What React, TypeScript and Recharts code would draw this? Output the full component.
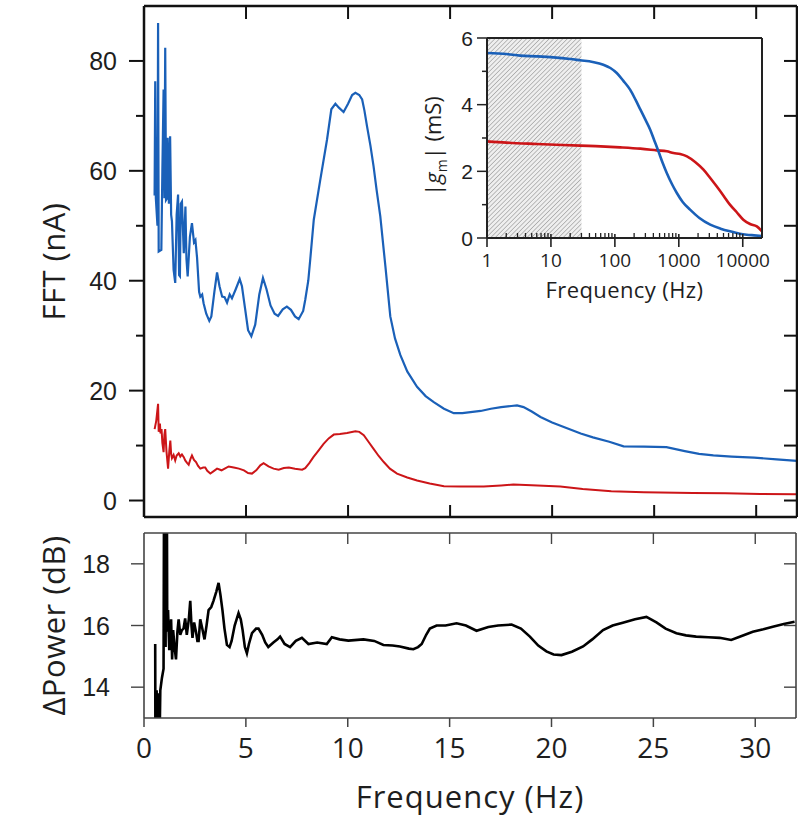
import React from 'react';
import { LineChart, Line, XAxis, YAxis, ReferenceArea } from 'recharts';

// ---------- main panel: FFT amplitude (nA) vs frequency (Hz) ----------
const blueFreq = [0.52, 0.55, 0.58, 0.66, 0.69, 0.72, 0.85, 0.9, 0.96, 1.0, 1.04, 1.08, 1.13, 1.16, 1.22, 1.28, 1.33, 1.37, 1.45, 1.53, 1.6, 1.67, 1.72, 1.76, 1.8, 1.86, 1.95, 2.03, 2.08, 2.14, 2.25, 2.35, 2.45, 2.52, 2.6, 2.7, 2.76, 2.85, 2.92, 3.05, 3.2, 3.3, 3.45, 3.58, 3.7, 3.83, 3.95, 4.07, 4.2, 4.31, 4.5, 4.69, 4.8, 4.95, 5.1, 5.26, 5.45, 5.65, 5.83, 6.0, 6.2, 6.4, 6.57, 6.8, 7.0, 7.2, 7.4, 7.58, 7.8, 7.9, 8.05, 8.15, 8.32, 8.64, 8.97, 9.18, 9.38, 9.55, 9.78, 10.0, 10.2, 10.36, 10.55, 10.69, 10.8, 10.93, 11.1, 11.25, 11.4, 11.58, 11.83, 12.07, 12.3, 12.56, 12.9, 13.38, 13.8, 14.2, 14.7, 15.18, 15.6, 16.0, 16.5, 17.0, 17.5, 18.0, 18.28, 18.6, 19.0, 19.43, 20.0, 20.7, 21.4, 22.0, 22.8, 23.5, 24.5, 25.6, 26.5, 27.2, 27.9, 28.8, 29.9, 31.0, 32.0];
const blueAmp = [55.5, 76.3, 55, 50, 86.9, 45.3, 45.6, 60, 74.8, 55, 82.4, 54.7, 55, 66, 54, 66.3, 52, 50.8, 42, 39.6, 52, 55.7, 41, 40.8, 54, 54.4, 45, 53.5, 44, 40.8, 48, 50.5, 47, 47.4, 44.2, 38, 37.1, 37.5, 35.9, 34, 32.7, 33.5, 38, 41.5, 39, 37.1, 37, 36, 37.5, 36.8, 38.5, 40.3, 39, 35, 31, 29.9, 32, 37.5, 40.5, 38.5, 35.5, 34, 33.6, 34.8, 35.3, 34.7, 33.5, 33.0, 34.5, 36.5, 40, 44, 51.1, 58.4, 65.7, 71.2, 72.2, 71.5, 70.7, 72.2, 73.8, 74.2, 73.8, 73, 71, 68.1, 64.5, 60.8, 56.5, 51.7, 42.6, 33.5, 29.5, 26.5, 23.5, 20.7, 19.0, 17.9, 16.7, 15.9, 15.9, 16.1, 16.3, 16.7, 17.0, 17.2, 17.3, 17.0, 16.2, 15.2, 14.2, 13.2, 12.2, 11.5, 10.7, 9.85, 9.8, 9.7, 9.0, 8.5, 8.2, 8.0, 7.8, 7.5, 7.2];

const redFreq = [0.52, 0.6, 0.69, 0.72, 0.78, 0.81, 0.86, 0.9, 0.96, 1.0, 1.04, 1.1, 1.18, 1.24, 1.29, 1.33, 1.37, 1.45, 1.53, 1.6, 1.7, 1.78, 1.86, 1.95, 2.02, 2.1, 2.19, 2.28, 2.35, 2.45, 2.55, 2.65, 2.76, 2.9, 3.0, 3.1, 3.25, 3.4, 3.58, 3.8, 4.0, 4.15, 4.4, 4.65, 4.9, 5.1, 5.29, 5.5, 5.7, 5.86, 6.1, 6.35, 6.6, 6.85, 7.1, 7.4, 7.75, 7.9, 8.1, 8.3, 8.55, 8.8, 9.05, 9.3, 9.6, 9.95, 10.36, 10.55, 10.77, 11.0, 11.25, 11.5, 11.75, 12.05, 12.4, 12.9, 13.38, 14.0, 14.7, 15.5, 16.65, 17.5, 18.1, 19.0, 20.4, 21.5, 22.9, 24.5, 26.9, 28.5, 30.2, 32.0];
const redAmp = [13.0, 14.5, 17.6, 12.5, 14, 12.2, 13, 10.5, 8.8, 12, 13.0, 9, 5.8, 9, 10.9, 8.5, 7.7, 8.3, 7.3, 8.2, 8.6, 8.0, 8.4, 7.9, 7.3, 6.9, 6.5, 7.6, 8.2, 7.4, 7.0, 6.3, 5.8, 6.0, 6.0, 5.4, 4.9, 5.3, 5.8, 5.5, 5.9, 6.2, 6.0, 5.8, 5.5, 5.0, 4.9, 5.5, 6.4, 6.8, 6.2, 5.8, 5.6, 5.9, 6.0, 5.8, 5.6, 5.9, 6.8, 7.9, 9.1, 10.3, 11.3, 12.0, 12.1, 12.3, 12.6, 12.5, 11.9, 10.7, 9.4, 8.1, 7.0, 5.8, 4.9, 4.2, 3.65, 3.1, 2.6, 2.55, 2.55, 2.75, 2.9, 2.8, 2.55, 2.1, 1.7, 1.5, 1.35, 1.3, 1.2, 1.15];

// ---------- lower panel: ΔPower (dB) ----------
const dpFreq = [0.55, 0.56, 0.6, 0.62, 0.66, 0.72, 0.76, 0.8, 0.88, 0.96, 0.98, 1.0, 1.02, 1.04, 1.06, 1.08, 1.1, 1.12, 1.14, 1.18, 1.24, 1.33, 1.38, 1.43, 1.5, 1.57, 1.64, 1.7, 1.78, 1.86, 1.94, 2.02, 2.1, 2.2, 2.27, 2.33, 2.38, 2.46, 2.55, 2.62, 2.68, 2.76, 2.86, 2.97, 3.07, 3.17, 3.3, 3.41, 3.55, 3.66, 3.75, 3.85, 3.95, 4.07, 4.2, 4.3, 4.45, 4.64, 4.75, 4.84, 4.95, 5.05, 5.15, 5.3, 5.5, 5.62, 5.8, 5.95, 6.1, 6.35, 6.55, 6.68, 6.9, 7.17, 7.45, 7.75, 8.07, 8.5, 8.97, 9.22, 9.6, 10.03, 10.77, 11.3, 11.75, 12.2, 12.56, 13.0, 13.22, 13.45, 13.63, 13.85, 14.03, 14.36, 14.8, 15.34, 15.8, 16.32, 16.9, 17.38, 18.04, 18.5, 18.94, 19.35, 19.75, 20.1, 20.49, 21.0, 21.55, 22.0, 22.53, 23.0, 23.5, 24.1, 24.66, 25.15, 25.6, 26.13, 26.6, 27.1, 27.7, 28.25, 28.82, 29.3, 29.88, 30.4, 30.86, 31.4, 31.93];
const dpValue = [15.4, 12.0, 12.0, 13.9, 12.0, 13.8, 12.0, 13.9, 14.3, 14.6, 19.5, 21, 15.5, 22, 15.3, 21.5, 15.8, 21, 16.0, 16.5, 15.2, 16.2, 14.9, 15.85, 15.3, 14.9, 15.8, 16.2, 15.7, 15.85, 15.9, 16.23, 15.7, 16.2, 16.8, 16.0, 15.6, 16.1, 15.8, 15.5, 15.5, 16.2, 15.9, 15.55, 16.0, 16.5, 16.6, 16.8, 17.1, 17.38, 17.0, 16.5, 15.9, 15.37, 15.3, 15.5, 16.0, 16.4, 16.2, 15.85, 15.3, 15.1, 15.4, 15.75, 15.9, 15.9, 15.7, 15.45, 15.3, 15.45, 15.55, 15.64, 15.4, 15.3, 15.5, 15.6, 15.4, 15.45, 15.4, 15.62, 15.55, 15.51, 15.55, 15.5, 15.37, 15.35, 15.32, 15.25, 15.23, 15.3, 15.4, 15.7, 15.9, 16.0, 16.0, 16.07, 16.0, 15.83, 15.95, 16.0, 16.03, 15.9, 15.64, 15.35, 15.16, 15.06, 15.04, 15.15, 15.32, 15.55, 15.85, 16.0, 16.09, 16.2, 16.28, 16.1, 15.9, 15.75, 15.68, 15.64, 15.62, 15.6, 15.53, 15.65, 15.8, 15.88, 15.96, 16.05, 16.12];

// ---------- inset: |gm| (mS) vs frequency (Hz), log axis ----------
const gmFreqBlue = [1, 2, 3.3, 6, 11, 20, 28.7, 45, 66, 85, 107, 135, 173, 210, 251, 300, 357, 415, 480, 560, 648, 780, 931, 1150, 1500, 2100, 3100, 4500, 6300, 9000, 11500, 15000, 20000];
const gmBlue = [5.55, 5.52, 5.47, 5.45, 5.42, 5.37, 5.33, 5.28, 5.2, 5.1, 4.95, 4.72, 4.45, 4.15, 3.85, 3.55, 3.25, 2.92, 2.6, 2.25, 1.95, 1.62, 1.35, 1.08, 0.85, 0.6, 0.4, 0.28, 0.2, 0.13, 0.1, 0.08, 0.06];
const gmFreqRed = [1, 2, 6, 15, 28.7, 60, 121, 250, 452, 650, 826, 1050, 1340, 1800, 2430, 3100, 3900, 5000, 6300, 8000, 10200, 13000, 16600, 20000];
const gmRed = [2.9, 2.86, 2.82, 2.79, 2.77, 2.75, 2.72, 2.68, 2.63, 2.6, 2.55, 2.52, 2.45, 2.28, 2.05, 1.8, 1.55, 1.27, 1.0, 0.78, 0.55, 0.42, 0.35, 0.2];

// ---------- ticks ----------
const fftTicks = [0, 10, 20, 30, 40, 50, 60, 70, 80];
const freqInnerTicks = [5, 10, 15, 20, 25, 30];
const freqLabelTicks = [0, 5, 10, 15, 20, 25, 30];
const dpTicks = [14, 16, 18];
const gmTicksY = [0, 1, 2, 3, 4, 5, 6];
const gmTicksX = [1, 2, 3, 4, 5, 6, 7, 8, 9, 10, 20, 30, 40, 50, 60, 70, 80, 90, 100, 200, 300, 400, 500, 600, 700, 800, 900, 1000, 2000, 3000, 4000, 5000, 6000, 7000, 8000, 9000, 10000, 20000];
const gmMajorX = [1, 10, 100, 1000, 10000];

const mainBlue = blueFreq.map((f, i) => ({ f, v: blueAmp[i] }));
const mainRed = redFreq.map((f, i) => ({ f, v: redAmp[i] }));
const dpData = dpFreq.map((f, i) => ({ f, v: dpValue[i] }));
const gmBlueData = gmFreqBlue.map((f, i) => ({ f, v: gmBlue[i] }));
const gmRedData = gmFreqRed.map((f, i) => ({ f, v: gmRed[i] }));

const NUM_FONT = "'Liberation Sans', Arial, sans-serif";
const TXT_FONT = "'Open Sans', 'Noto Sans', sans-serif";
const BLUE = '#1a60b8';
const RED = '#cc1518';

// tick renderers (tickSize=0, tickMargin=0, so x/y are the axis line position)
const leftTick = (o: { isMajor: (v: number) => boolean; major: number; minor: number; gap: number; size: number; stroke: string; sw: number }) =>
  (p: any) => {
    const { x, y, payload } = p;
    const v = payload.value;
    const mj = o.isMajor(v);
    return (
      <g>
        <line x1={x - (mj ? o.major : o.minor)} x2={x} y1={y} y2={y} stroke={o.stroke} strokeWidth={o.sw} />
        {mj && (
          <text x={x - o.gap} y={y} dy="0.36em" textAnchor="end" fontFamily={NUM_FONT} fontSize={o.size} fill="#1e1e1e">
            {v}
          </text>
        )}
      </g>
    );
  };

const rightInnerTick = (len: number, stroke: string, sw: number) => (p: any) => (
  <line x1={p.x - len} x2={p.x} y1={p.y} y2={p.y} stroke={stroke} strokeWidth={sw} />
);
const bottomInnerTick = (len: number, stroke: string, sw: number) => (p: any) => (
  <line x1={p.x} x2={p.x} y1={p.y - len} y2={p.y} stroke={stroke} strokeWidth={sw} />
);
const topInnerTick = (len: number, stroke: string, sw: number) => (p: any) => (
  <line x1={p.x} x2={p.x} y1={p.y} y2={p.y + len} stroke={stroke} strokeWidth={sw} />
);
const bottomLabelTick = (p: any) => (
  <g>
    <line x1={p.x} x2={p.x} y1={p.y} y2={p.y + 9} stroke="#444" strokeWidth={1.5} />
    <text x={p.x} y={p.y + 30} dy="0.36em" textAnchor="middle" fontFamily={TXT_FONT} fontSize={28} fill="#1e1e1e">
      {p.payload.value}
    </text>
  </g>
);
const insetXTick = (p: any) => {
  const v = p.payload.value;
  const mj = gmMajorX.includes(v);
  return (
    <g>
      {mj ? (
        <line x1={p.x} x2={p.x} y1={p.y - 4} y2={p.y + 9} stroke="#222" strokeWidth={1.6} />
      ) : (
        <line x1={p.x} x2={p.x} y1={p.y - 5} y2={p.y} stroke="#222" strokeWidth={1.3} />
      )}
      {mj && (
        <text x={p.x} y={p.y + 22} dy="0.36em" textAnchor="middle" fontFamily={TXT_FONT} fontSize={19} fill="#1e1e1e">
          {v}
        </text>
      )}
    </g>
  );
};

// axis titles (rendered as axis labels)
const vTitle = (text: string, dx: number) => (p: any) => {
  const vb = p.viewBox || { x: 0, y: 0, width: 0, height: 0 };
  const cx = vb.x + dx;
  const cy = vb.y + vb.height / 2;
  return (
    <text transform={`translate(${cx},${cy}) rotate(-90)`} textAnchor="middle" dy="0.36em" fontFamily={TXT_FONT} fontSize={31} fill="#1e1e1e" letterSpacing={0.5}>
      {text}
    </text>
  );
};
const freqTitle = (p: any) => {
  const vb = p.viewBox || { x: 0, y: 0, width: 0, height: 0 };
  return (
    <text x={vb.x + vb.width / 2} y={vb.y + 79} dy="0.36em" textAnchor="middle" fontFamily={TXT_FONT} fontSize={31} fill="#1e1e1e" letterSpacing={1}>
      Frequency (Hz)
    </text>
  );
};
const insetFreqTitle = (p: any) => {
  const vb = p.viewBox || { x: 0, y: 0, width: 0, height: 0 };
  return (
    <text x={vb.x + vb.width / 2} y={vb.y + 52} dy="0.36em" textAnchor="middle" fontFamily={TXT_FONT} fontSize={22} fill="#1e1e1e" letterSpacing={0.4}>
      Frequency (Hz)
    </text>
  );
};
const insetYTitle = (p: any) => {
  const vb = p.viewBox || { x: 0, y: 0, width: 0, height: 0 };
  const cx = vb.x + 33;
  const cy = vb.y + vb.height / 2 + 8;
  return (
    <text transform={`translate(${cx},${cy}) rotate(-90)`} textAnchor="middle" dy="0.36em" fontFamily={TXT_FONT} fontSize={22} fill="#1e1e1e">
      <tspan>|</tspan>
      <tspan fontStyle="italic">g</tspan>
      <tspan fontSize={14} dy={6}>m</tspan>
      <tspan dy={-6}>| (mS)</tspan>
    </text>
  );
};

export default function App() {
  return (
    <div style={{ position: 'absolute', left: 0, top: 0, width: 798, height: 817, background: '#fff' }}>
      <svg width={0} height={0} style={{ position: 'absolute' }}>
        <defs>
          <pattern id="hatchP" patternUnits="userSpaceOnUse" width={3.2} height={3.2} patternTransform="rotate(45)">
            <rect x={0} y={0} width={3.2} height={3.2} fill="#efefef" />
            <line x1={0} y1={0} x2={0} y2={3.2} stroke="#8e8e8e" strokeWidth={1.1} />
          </pattern>
        </defs>
      </svg>

      {/* main FFT panel */}
      <div style={{ position: 'absolute', left: 0, top: 0 }}>
        <LineChart width={798} height={520} margin={{ top: 5, right: 0, bottom: 0, left: 0 }}>
          <XAxis xAxisId="b" type="number" dataKey="f" domain={[0, 32]} ticks={freqInnerTicks} interval={0} height={3}
            tickSize={0} tickMargin={0} tickLine={false} axisLine={{ stroke: '#111', strokeWidth: 2.5 }}
            tick={bottomInnerTick(12, '#111', 2)} allowDataOverflow />
          <XAxis xAxisId="t" orientation="top" type="number" dataKey="f" domain={[0, 32]} ticks={freqInnerTicks} interval={0} height={1}
            tickSize={0} tickMargin={0} tickLine={false} axisLine={{ stroke: '#111', strokeWidth: 2.5 }}
            tick={topInnerTick(13, '#111', 2)} allowDataOverflow />
          <YAxis yAxisId="l" type="number" domain={[-3, 90]} ticks={fftTicks} interval={0} width={144}
            tickSize={0} tickMargin={0} tickLine={false} axisLine={{ stroke: '#111', strokeWidth: 2.5 }}
            tick={leftTick({ isMajor: (v) => v % 20 === 0, major: 15, minor: 8, gap: 27, size: 25, stroke: '#111', sw: 2 })}
            label={vTitle('FFT (nA)', 54)} allowDataOverflow />
          <YAxis yAxisId="r" orientation="right" type="number" domain={[-3, 90]} ticks={fftTicks} interval={0} width={1}
            tickSize={0} tickMargin={0} tickLine={false} axisLine={{ stroke: '#111', strokeWidth: 2.5 }}
            tick={rightInnerTick(13, '#111', 2)} allowDataOverflow />
          <Line xAxisId="b" yAxisId="l" data={mainBlue} dataKey="v" type="linear" stroke={BLUE} strokeWidth={2.2}
            dot={false} activeDot={false} isAnimationActive={false} />
          <Line xAxisId="b" yAxisId="l" data={mainRed} dataKey="v" type="linear" stroke={RED} strokeWidth={2}
            dot={false} activeDot={false} isAnimationActive={false} />
        </LineChart>
      </div>

      {/* ΔPower panel */}
      <div style={{ position: 'absolute', left: 0, top: 520 }}>
        <LineChart width={798} height={297} margin={{ top: 12, right: 0, bottom: 0, left: 0 }}>
          <XAxis xAxisId="b" type="number" dataKey="f" domain={[0, 32]} ticks={freqLabelTicks} interval={0} height={99}
            tickSize={0} tickMargin={0} tickLine={false} axisLine={{ stroke: '#444', strokeWidth: 1.6 }}
            tick={bottomLabelTick} label={freqTitle} allowDataOverflow />
          <XAxis xAxisId="t" orientation="top" type="number" dataKey="f" domain={[0, 32]} ticks={freqInnerTicks} interval={0} height={1}
            tickSize={0} tickMargin={0} tickLine={false} axisLine={{ stroke: '#444', strokeWidth: 1.6 }}
            tick={topInnerTick(11, '#444', 1.4)} allowDataOverflow />
          <YAxis yAxisId="l" type="number" domain={[13, 19]} ticks={dpTicks} interval={0} width={144}
            tickSize={0} tickMargin={0} tickLine={false} axisLine={{ stroke: '#444', strokeWidth: 1.6 }}
            tick={leftTick({ isMajor: () => true, major: 13, minor: 13, gap: 34, size: 25, stroke: '#444', sw: 1.4 })}
            label={vTitle('ΔPower (dB)', 54)} allowDataOverflow />
          <YAxis yAxisId="r" orientation="right" type="number" domain={[13, 19]} ticks={dpTicks} interval={0} width={2}
            tickSize={0} tickMargin={0} tickLine={false} axisLine={{ stroke: '#444', strokeWidth: 1.6 }}
            tick={rightInnerTick(12, '#444', 1.4)} allowDataOverflow />
          <Line xAxisId="b" yAxisId="l" data={dpData} dataKey="v" type="linear" stroke="#000" strokeWidth={2.6}
            dot={false} activeDot={false} isAnimationActive={false} />
        </LineChart>
      </div>

      {/* inset: |gm| */}
      <div style={{ position: 'absolute', left: 400, top: 20 }}>
        <LineChart width={398} height={290} margin={{ top: 17, right: 35, bottom: 0, left: 0 }}>
          <XAxis xAxisId="b" type="number" scale="log" dataKey="f" domain={[1, 20000]} ticks={gmTicksX} interval={0} height={72}
            tickSize={0} tickMargin={0} tickLine={false} axisLine={{ stroke: '#222', strokeWidth: 2 }}
            tick={insetXTick} label={insetFreqTitle} allowDataOverflow />
          <XAxis xAxisId="t" orientation="top" type="number" scale="log" dataKey="f" domain={[1, 20000]} height={1}
            tick={false} tickLine={false} axisLine={{ stroke: '#222', strokeWidth: 2 }} allowDataOverflow />
          <YAxis yAxisId="l" type="number" domain={[0, 6]} ticks={gmTicksY} interval={0} width={87}
            tickSize={0} tickMargin={0} tickLine={false} axisLine={{ stroke: '#222', strokeWidth: 2 }}
            tick={leftTick({ isMajor: (v) => v % 2 === 0, major: 10, minor: 5, gap: 14, size: 21, stroke: '#222', sw: 1.5 })}
            label={insetYTitle} allowDataOverflow />
          <YAxis yAxisId="r" orientation="right" type="number" domain={[0, 6]} width={1}
            tick={false} tickLine={false} axisLine={{ stroke: '#222', strokeWidth: 2 }} allowDataOverflow />
          <ReferenceArea xAxisId="b" yAxisId="l" x1={1} x2={30} y1={0} y2={6} fill="url(#hatchP)" fillOpacity={1} stroke="none" ifOverflow="hidden" />
          <Line xAxisId="b" yAxisId="l" data={gmRedData} dataKey="v" type="monotone" stroke={RED} strokeWidth={2.6}
            dot={false} activeDot={false} isAnimationActive={false} />
          <Line xAxisId="b" yAxisId="l" data={gmBlueData} dataKey="v" type="monotone" stroke={BLUE} strokeWidth={2.6}
            dot={false} activeDot={false} isAnimationActive={false} />
        </LineChart>
      </div>
    </div>
  );
}
